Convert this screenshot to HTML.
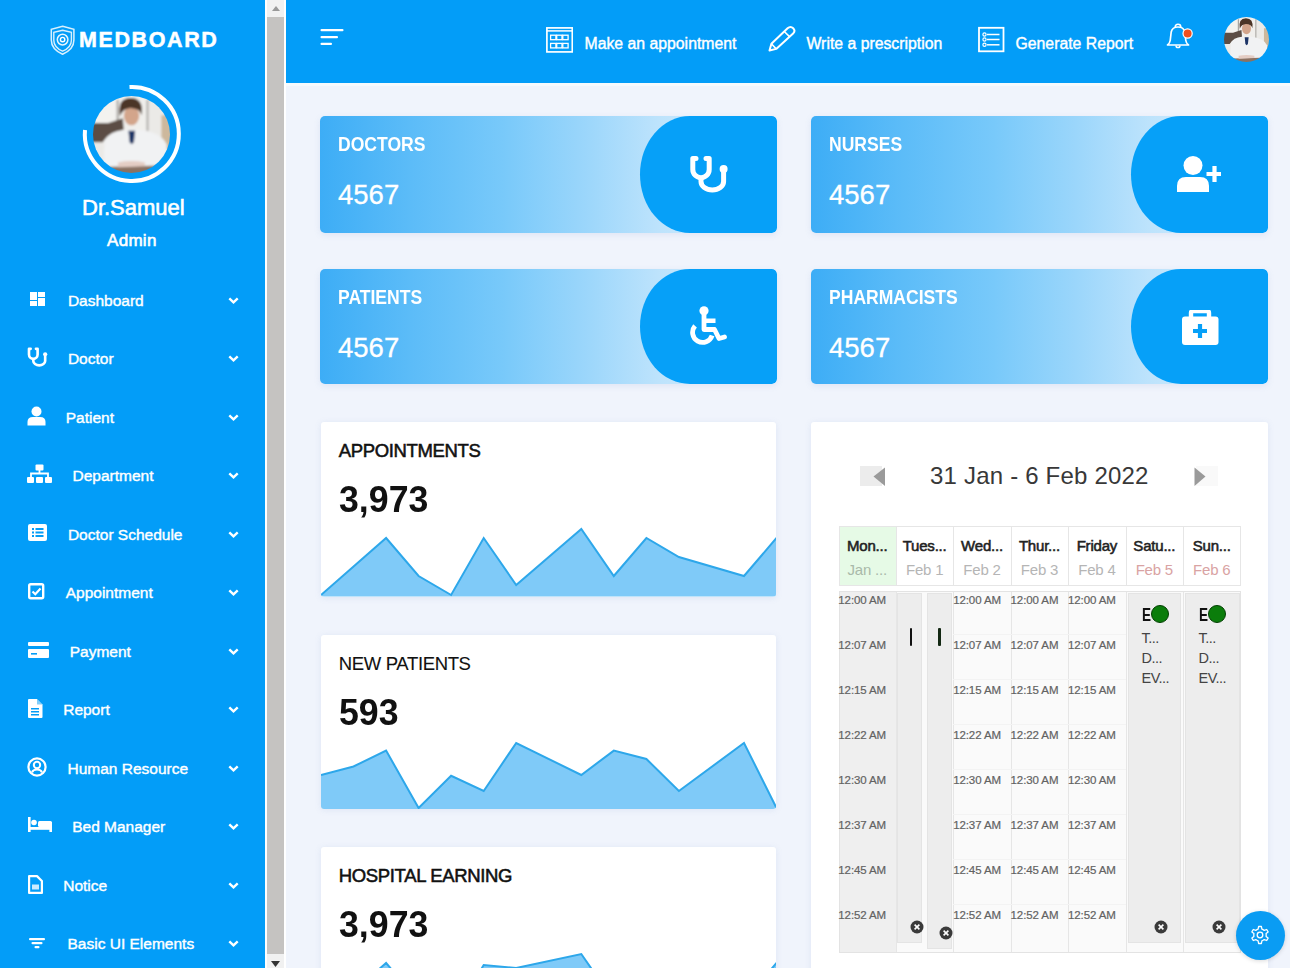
<!DOCTYPE html>
<html><head><meta charset="utf-8">
<style>
*{box-sizing:border-box;margin:0;padding:0}
html,body{width:1290px;height:968px;overflow:hidden;background:#f0f4fc;font-family:"Liberation Sans",sans-serif}
body{position:relative}
.abs{position:absolute}
.tx{white-space:nowrap}
#side{position:absolute;left:0;top:0;width:265px;height:968px;background:#039df8;color:#fff}
#sbar{position:absolute;left:265px;top:0;width:21px;height:968px;background:#fff}
#sbar .track{position:absolute;left:2px;top:0;width:17px;height:968px;background:#f1f1f1}
#sbar .thumb{position:absolute;left:2px;top:17px;width:17px;height:937px;background:#c5c3c1}
#hdr{position:absolute;left:286px;top:0;width:1004px;height:82.7px;background:#039df8;box-shadow:0 3px 0 #f6fafd}
.stat{position:absolute;width:457px;border-radius:5px;overflow:hidden;background:linear-gradient(90deg,#3dadf6 0%,#5cbcf8 20%,#78c9fa 40%,#9bd6fb 58%,#bde3fc 74%,#def0fe 100%);box-shadow:0 2px 6px rgba(120,150,200,.15)}
.stat .pill{position:absolute;left:320px;top:0;width:137px;height:100%;background:#06a0f8}
.card{position:absolute;background:#fff;border-radius:3px;box-shadow:0 1px 6px rgba(120,150,200,.15);overflow:hidden}
</style></head>
<body>
<div id="side">
<svg class="abs" style="left:49px;top:25px" width="28" height="31" viewBox="0 0 28 31">
<path d="M13.6 1.3 L24.9 4.3 V15 C24.9 21.5 19.8 26.5 13.6 29.3 C7.4 26.5 2.3 21.5 2.3 15 V4.3 Z" fill="none" stroke="#fff" stroke-width="1.5" opacity="0.85"/>
<path d="M13.6 5.2 L22.4 7.4 V15.2 C22.4 20.3 18.5 24 13.6 26.2 C8.7 24 4.8 20.3 4.8 15.2 V7.4 Z" fill="none" stroke="#fff" stroke-width="1.4" opacity="0.85"/>
<circle cx="13.6" cy="14.6" r="5.3" fill="none" stroke="#fff" stroke-width="1.5" opacity="0.9"/>
<circle cx="13.6" cy="14.6" r="2.2" fill="none" stroke="#fff" stroke-width="1.4"/>
</svg>
<div class="abs" style="left:79px;top:28px;font-size:21.5px;font-weight:bold;letter-spacing:1.6px;line-height:24px;-webkit-text-stroke:0.5px #fff">MEDBOARD</div>
<svg class="abs" style="left:92.5px;top:95.5px" width="77.0" height="77.0" viewBox="-40 -40 80 80">
<defs><clipPath id="av1"><circle cx="0" cy="0" r="40"/></clipPath>
<filter id="av1b" x="-10%" y="-10%" width="120%" height="120%"><feGaussianBlur stdDeviation="1"/></filter></defs>
<g clip-path="url(#av1)"><g filter="url(#av1b)">
<rect x="-42" y="-42" width="84" height="84" fill="#ebeae7"/>
<rect x="-42" y="-42" width="28" height="44" fill="#f3f2ef"/>
<rect x="-14" y="-40" width="30" height="40" fill="#f0efec"/>
<rect x="-15.5" y="-36" width="2.2" height="34" fill="#a8a6a2"/>
<rect x="15.5" y="-36" width="2.2" height="34" fill="#b3b1ad"/>
<rect x="31" y="-20" width="11" height="36" fill="#cdb89c"/>
<path d="M-42 -12 L-24 -12 L-9 -17 L-8 -5 L-26 3 L-30 8 L-42 8Z" fill="#5b4d44"/>
<path d="M-29.5 42 L-28 6 Q-24 -3 -8 -5 L8 -5 Q30 -3 36.5 10 L38 42Z" fill="#f1f2f3"/>
<path d="M-3.2 -4 L3.8 -4 L2.5 8 L0.3 10 L-2 8Z" fill="#1d3466"/>
<ellipse cx="0" cy="-19.5" rx="8" ry="10" fill="#d3a58b"/>
<path d="M-12 -19 Q-15 -38 -1 -38 Q13 -38 10.5 -20 Q9 -27 -1 -27.5 Q-9 -27 -12 -19Z" fill="#4b3427"/>
<path d="M-42 34 L42 32 L42 42 L-42 42Z" fill="#8a7264"/>
<path d="M-14 29 Q0 26 14 29 L14 33 L-14 34Z" fill="#e4cdc4"/>
</g></g></svg>
<svg class="abs" style="left:79.5px;top:82.2px" width="104" height="104" viewBox="0 0 104 104"><path d="M49.5 5 A47 47 0 1 1 5 48" fill="none" stroke="#fff" stroke-width="4"/></svg>
<div class="abs tx" style="left:82px;top:197.4px;font-size:22px;line-height:22px;color:#fff;-webkit-text-stroke:0.6px #fff">Dr.Samuel</div>
<div class="abs tx" style="left:107px;top:231.6px;font-size:17px;line-height:17px;color:#fff;-webkit-text-stroke:0.6px #fff;letter-spacing:0.3px">Admin</div>
<svg class="abs" style="left:30px;top:292px" width="15" height="14"><rect x="0" y="0" width="7" height="8" fill="#fff"/><rect x="8" y="0" width="7" height="5" fill="#fff"/><rect x="0" y="9" width="7" height="5" fill="#fff"/><rect x="8" y="6" width="7" height="8" fill="#fff"/></svg>
<div class="abs tx" style="left:67.9px;top:292.9px;font-size:15.5px;line-height:15.5px;color:#fff;-webkit-text-stroke:0.4px #fff">Dashboard</div>
<svg class="abs" style="left:228px;top:296.5px" width="11" height="7"><path d="M1.3 1.3 L5.5 5.3 L9.7 1.3" fill="none" stroke="#fff" stroke-width="2.4"/></svg>
<svg class="abs" style="left:27px;top:347px" width="21" height="21" viewBox="0 0 40 40"><path d="M7 3.5 H3.8 V14.5 A8.2 8.2 0 0 0 20.2 14.5 V3.5 H17" fill="none" stroke="#fff" stroke-width="5" stroke-linecap="round" stroke-linejoin="round"/><path d="M12 22 V26.5 A11.3 8.5 0 0 0 34.6 26.5 V16" fill="none" stroke="#fff" stroke-width="5"/><circle cx="34.6" cy="14" r="4" fill="#fff"/></svg>
<div class="abs tx" style="left:67.9px;top:351.4px;font-size:15.5px;line-height:15.5px;color:#fff;-webkit-text-stroke:0.4px #fff">Doctor</div>
<svg class="abs" style="left:228px;top:355.0px" width="11" height="7"><path d="M1.3 1.3 L5.5 5.3 L9.7 1.3" fill="none" stroke="#fff" stroke-width="2.4"/></svg>
<svg class="abs" style="left:27px;top:406px" width="19" height="20"><circle cx="9.5" cy="5.5" r="5" fill="#fff"/><path d="M0.5 19.5 V16 Q0.5 11 6 11 H13 Q18.5 11 18.5 16 V19.5Z" fill="#fff"/></svg>
<div class="abs tx" style="left:65.7px;top:409.9px;font-size:15.5px;line-height:15.5px;color:#fff;-webkit-text-stroke:0.4px #fff">Patient</div>
<svg class="abs" style="left:228px;top:413.5px" width="11" height="7"><path d="M1.3 1.3 L5.5 5.3 L9.7 1.3" fill="none" stroke="#fff" stroke-width="2.4"/></svg>
<svg class="abs" style="left:27px;top:464px" width="25" height="20"><rect x="8.5" y="0.5" width="8" height="6" rx="1" fill="#fff"/><path d="M12.5 6 V9.5 M4 13 V9.5 H21 V13" fill="none" stroke="#fff" stroke-width="1.8"/><rect x="0" y="13" width="7" height="6" rx="1" fill="#fff"/><rect x="9" y="13" width="7" height="6" rx="1" fill="#fff"/><rect x="18" y="13" width="7" height="6" rx="1" fill="#fff"/></svg>
<div class="abs tx" style="left:72.5px;top:468.4px;font-size:15.5px;line-height:15.5px;color:#fff;-webkit-text-stroke:0.4px #fff">Department</div>
<svg class="abs" style="left:228px;top:472.0px" width="11" height="7"><path d="M1.3 1.3 L5.5 5.3 L9.7 1.3" fill="none" stroke="#fff" stroke-width="2.4"/></svg>
<svg class="abs" style="left:28px;top:524px" width="19" height="18"><rect x="0" y="0" width="19" height="17" rx="2" fill="#fff"/><rect x="4" y="4" width="2" height="2" fill="#049cf6"/><rect x="7.5" y="4" width="8" height="2" fill="#049cf6"/><rect x="4" y="7.5" width="2" height="2" fill="#049cf6"/><rect x="7.5" y="7.5" width="8" height="2" fill="#049cf6"/><rect x="4" y="11" width="2" height="2" fill="#049cf6"/><rect x="7.5" y="11" width="8" height="2" fill="#049cf6"/></svg>
<div class="abs tx" style="left:67.9px;top:526.9px;font-size:15.5px;line-height:15.5px;color:#fff;-webkit-text-stroke:0.4px #fff">Doctor Schedule</div>
<svg class="abs" style="left:228px;top:530.5px" width="11" height="7"><path d="M1.3 1.3 L5.5 5.3 L9.7 1.3" fill="none" stroke="#fff" stroke-width="2.4"/></svg>
<svg class="abs" style="left:28px;top:583px" width="17" height="17"><rect x="1.2" y="1.2" width="14" height="14" rx="1.5" fill="none" stroke="#fff" stroke-width="2.4"/><path d="M4.5 8.5 L7.3 11.2 L12.5 5.5" fill="none" stroke="#fff" stroke-width="2.2"/></svg>
<div class="abs tx" style="left:65.7px;top:585.4px;font-size:15.5px;line-height:15.5px;color:#fff;-webkit-text-stroke:0.4px #fff">Appointment</div>
<svg class="abs" style="left:228px;top:589.0px" width="11" height="7"><path d="M1.3 1.3 L5.5 5.3 L9.7 1.3" fill="none" stroke="#fff" stroke-width="2.4"/></svg>
<svg class="abs" style="left:28px;top:642px" width="21" height="16"><rect x="0" y="0" width="21" height="4" rx="1" fill="#fff"/><rect x="0" y="7" width="21" height="9" rx="1" fill="#fff"/><rect x="3" y="11" width="6" height="1.6" fill="#049cf6"/></svg>
<div class="abs tx" style="left:69.7px;top:643.9px;font-size:15.5px;line-height:15.5px;color:#fff;-webkit-text-stroke:0.4px #fff">Payment</div>
<svg class="abs" style="left:228px;top:647.5px" width="11" height="7"><path d="M1.3 1.3 L5.5 5.3 L9.7 1.3" fill="none" stroke="#fff" stroke-width="2.4"/></svg>
<svg class="abs" style="left:28px;top:699px" width="15" height="19"><path d="M0 1 Q0 0 1 0 H9 L14.5 5.5 V18 Q14.5 19 13.5 19 H1 Q0 19 0 18Z" fill="#fff"/><path d="M9 0 V5.5 H14.5" fill="#049cf6" opacity="0.5"/><rect x="3" y="9" width="8" height="1.5" fill="#049cf6"/><rect x="3" y="12" width="8" height="1.5" fill="#049cf6"/><rect x="3" y="15" width="8" height="1.5" fill="#049cf6"/></svg>
<div class="abs tx" style="left:63.2px;top:702.4px;font-size:15.5px;line-height:15.5px;color:#fff;-webkit-text-stroke:0.4px #fff">Report</div>
<svg class="abs" style="left:228px;top:706.0px" width="11" height="7"><path d="M1.3 1.3 L5.5 5.3 L9.7 1.3" fill="none" stroke="#fff" stroke-width="2.4"/></svg>
<svg class="abs" style="left:27px;top:757px" width="20" height="20"><circle cx="10" cy="10" r="8.6" fill="none" stroke="#fff" stroke-width="2.2"/><circle cx="10" cy="8" r="3.2" fill="none" stroke="#fff" stroke-width="2"/><path d="M5 15.5 Q6 12.5 10 12.5 Q14 12.5 15 15.5" fill="none" stroke="#fff" stroke-width="2"/></svg>
<div class="abs tx" style="left:67.5px;top:760.9px;font-size:15.5px;line-height:15.5px;color:#fff;-webkit-text-stroke:0.4px #fff">Human Resource</div>
<svg class="abs" style="left:228px;top:764.5px" width="11" height="7"><path d="M1.3 1.3 L5.5 5.3 L9.7 1.3" fill="none" stroke="#fff" stroke-width="2.4"/></svg>
<svg class="abs" style="left:28px;top:817px" width="24" height="16"><rect x="0" y="0" width="2.6" height="15" fill="#fff"/><rect x="0" y="10" width="24" height="2.8" fill="#fff"/><rect x="21.4" y="5" width="2.6" height="10" fill="#fff"/><circle cx="6" cy="5.5" r="2.8" fill="#fff"/><rect x="10" y="4" width="14" height="6" rx="1.5" fill="#fff"/></svg>
<div class="abs tx" style="left:72.2px;top:819.4px;font-size:15.5px;line-height:15.5px;color:#fff;-webkit-text-stroke:0.4px #fff">Bed Manager</div>
<svg class="abs" style="left:228px;top:823.0px" width="11" height="7"><path d="M1.3 1.3 L5.5 5.3 L9.7 1.3" fill="none" stroke="#fff" stroke-width="2.4"/></svg>
<svg class="abs" style="left:28px;top:875px" width="15" height="19"><path d="M1.1 1.1 H9 L13.9 6 V17.9 H1.1Z" fill="none" stroke="#fff" stroke-width="2.2" stroke-linejoin="round"/><rect x="4" y="9.5" width="7" height="5" fill="#fff" opacity="0.8"/></svg>
<div class="abs tx" style="left:63.2px;top:877.9px;font-size:15.5px;line-height:15.5px;color:#fff;-webkit-text-stroke:0.4px #fff">Notice</div>
<svg class="abs" style="left:228px;top:881.5px" width="11" height="7"><path d="M1.3 1.3 L5.5 5.3 L9.7 1.3" fill="none" stroke="#fff" stroke-width="2.4"/></svg>
<svg class="abs" style="left:29px;top:937px" width="17" height="12"><rect x="0" y="1" width="16" height="2.2" rx="1" fill="#fff"/><rect x="2.5" y="5" width="11" height="2.2" rx="1" fill="#fff"/><rect x="5.5" y="9" width="5" height="2.2" rx="1" fill="#fff"/></svg>
<div class="abs tx" style="left:67.5px;top:936.4px;font-size:15.5px;line-height:15.5px;color:#fff;-webkit-text-stroke:0.4px #fff">Basic UI Elements</div>
<svg class="abs" style="left:228px;top:940.0px" width="11" height="7"><path d="M1.3 1.3 L5.5 5.3 L9.7 1.3" fill="none" stroke="#fff" stroke-width="2.4"/></svg>
</div>
<div id="sbar"><div class="track"></div><div class="thumb"></div>
<svg class="abs" style="left:6.5px;top:6px" width="8" height="5"><path d="M0 5 L4 0 L8 5Z" fill="#999"/></svg>
<svg class="abs" style="left:6px;top:961px" width="9" height="6"><path d="M0 0 L4.5 6 L9 0Z" fill="#333"/></svg>
</div>
<div id="hdr"></div>
<svg class="abs" style="left:320px;top:28px" width="24" height="18"><rect x="0.5" y="1" width="23" height="2.2" rx="1" fill="#fff"/><rect x="0.5" y="8" width="17.5" height="2.2" rx="1" fill="#fff"/><rect x="0.5" y="14.8" width="11.5" height="2.2" rx="1" fill="#fff"/></svg>
<svg class="abs" style="left:546px;top:27px" width="27" height="26" viewBox="0 0 27 26"><rect x="0.9" y="0.9" width="25.4" height="24" fill="none" stroke="#fff" stroke-width="1.7"/><line x1="1" y1="3.9" x2="26" y2="3.9" stroke="#fff" stroke-width="1.5"/><rect x="4.6" y="8.2" width="5.3" height="4.5" fill="none" stroke="#fff" stroke-width="1.3"/><rect x="10.7" y="8.2" width="5.3" height="4.5" fill="none" stroke="#fff" stroke-width="1.3"/><rect x="16.8" y="8.2" width="5.3" height="4.5" fill="none" stroke="#fff" stroke-width="1.3"/><rect x="4.6" y="16.4" width="5.3" height="4.5" fill="none" stroke="#fff" stroke-width="1.3"/><rect x="10.7" y="16.4" width="5.3" height="4.5" fill="none" stroke="#fff" stroke-width="1.3"/><rect x="16.8" y="16.4" width="5.3" height="4.5" fill="none" stroke="#fff" stroke-width="1.3"/></svg>
<div class="abs tx" style="left:584.5px;top:35.6px;font-size:15.8px;line-height:15.8px;color:#fff;-webkit-text-stroke:0.4px #fff">Make an appointment</div>
<svg class="abs" style="left:766px;top:25px" width="31" height="29" viewBox="0 0 31 29"><path d="M3.5 25.5 L5.4 18.8 L21.6 3.3 Q24.5 0.6 27.2 3.2 Q29.8 5.9 27.1 8.5 L10.2 23.9 Z" fill="none" stroke="#fff" stroke-width="2" stroke-linejoin="round"/><path d="M5.4 18.8 L10.2 23.9 M18.3 6.5 L23.5 11.6" stroke="#fff" stroke-width="1.6"/></svg>
<div class="abs tx" style="left:806.5px;top:35.6px;font-size:15.8px;line-height:15.8px;color:#fff;-webkit-text-stroke:0.4px #fff">Write a prescription</div>
<svg class="abs" style="left:977px;top:26px" width="28" height="27" viewBox="0 0 28 27"><rect x="2" y="1.8" width="24.5" height="23.5" fill="none" stroke="#fff" stroke-width="1.8"/><circle cx="7.5" cy="8.5" r="1.6" fill="none" stroke="#fff" stroke-width="1.2"/><circle cx="7.5" cy="13.5" r="1.6" fill="none" stroke="#fff" stroke-width="1.2"/><circle cx="7.5" cy="18.8" r="1.6" fill="none" stroke="#fff" stroke-width="1.2"/><line x1="10" y1="8.5" x2="22.5" y2="8.5" stroke="#fff" stroke-width="1.5"/><line x1="10" y1="13.5" x2="22.5" y2="13.5" stroke="#fff" stroke-width="1.5"/><line x1="10" y1="18.8" x2="22.5" y2="18.8" stroke="#fff" stroke-width="1.5"/></svg>
<div class="abs tx" style="left:1015.5px;top:35.6px;font-size:15.8px;line-height:15.8px;color:#fff;-webkit-text-stroke:0.4px #fff">Generate Report</div>
<svg class="abs" style="left:1164px;top:22px" width="32" height="28" viewBox="0 0 32 28"><path d="M14 5 Q8.2 5 7.2 10 L6.2 18.5 Q5.8 21.3 3.5 23 H24.5 Q22.2 21.3 21.8 18.5 L20.8 10 Q19.8 5 14 5Z" fill="none" stroke="#fff" stroke-width="1.7" stroke-linejoin="round"/><path d="M11.2 5 Q11.2 2.3 14 2.3 Q16.8 2.3 16.8 5" fill="none" stroke="#fff" stroke-width="1.5"/><path d="M12 23.5 Q12 25.6 14 25.6 Q16 25.6 16 23.5" fill="none" stroke="#fff" stroke-width="1.5"/><circle cx="23.6" cy="11.5" r="4.6" fill="#f24e1e" stroke="#fff" stroke-width="1.2"/></svg>
<svg class="abs" style="left:1223.5px;top:17.0px" width="45.0" height="45.0" viewBox="-40 -40 80 80">
<defs><clipPath id="av2"><circle cx="0" cy="0" r="40"/></clipPath>
<filter id="av2b" x="-10%" y="-10%" width="120%" height="120%"><feGaussianBlur stdDeviation="1"/></filter></defs>
<g clip-path="url(#av2)"><g filter="url(#av2b)">
<rect x="-42" y="-42" width="84" height="84" fill="#ebeae7"/>
<rect x="-42" y="-42" width="28" height="44" fill="#f3f2ef"/>
<rect x="-14" y="-40" width="30" height="40" fill="#f0efec"/>
<rect x="-15.5" y="-36" width="2.2" height="34" fill="#a8a6a2"/>
<rect x="15.5" y="-36" width="2.2" height="34" fill="#b3b1ad"/>
<rect x="31" y="-20" width="11" height="36" fill="#cdb89c"/>
<path d="M-42 -12 L-24 -12 L-9 -17 L-8 -5 L-26 3 L-30 8 L-42 8Z" fill="#5b4d44"/>
<path d="M-29.5 42 L-28 6 Q-24 -3 -8 -5 L8 -5 Q30 -3 36.5 10 L38 42Z" fill="#f1f2f3"/>
<path d="M-3.2 -4 L3.8 -4 L2.5 8 L0.3 10 L-2 8Z" fill="#1d3466"/>
<ellipse cx="0" cy="-19.5" rx="8" ry="10" fill="#d3a58b"/>
<path d="M-12 -19 Q-15 -38 -1 -38 Q13 -38 10.5 -20 Q9 -27 -1 -27.5 Q-9 -27 -12 -19Z" fill="#4b3427"/>
<path d="M-42 34 L42 32 L42 42 L-42 42Z" fill="#8a7264"/>
<path d="M-14 29 Q0 26 14 29 L14 33 L-14 34Z" fill="#e4cdc4"/>
</g></g></svg>
<div class="stat" style="left:320px;top:116px;height:117px">
<div class="pill" style="border-radius:50px 5px 5px 50px / 58.5px 5px 5px 58.5px"></div>
<div class="abs tx" style="left:18px;top:18.8px;font-size:19.5px;line-height:19.5px;font-weight:bold;color:#fff;transform:scaleX(0.9);transform-origin:0 0">DOCTORS</div>
<div class="abs tx" style="left:18px;top:64.9px;font-size:27.5px;line-height:27.5px;color:#fff;-webkit-text-stroke:0.3px #fff">4567</div>
<svg class="abs" style="left:369px;top:39px" width="40" height="40" viewBox="0 0 40 40"><path d="M7 3.5 H3.8 V14.5 A8.2 8.2 0 0 0 20.2 14.5 V3.5 H17" fill="none" stroke="#fff" stroke-width="5" stroke-linecap="round" stroke-linejoin="round"/><path d="M12 22 V26.5 A11.3 8.5 0 0 0 34.6 26.5 V16" fill="none" stroke="#fff" stroke-width="5"/><circle cx="34.6" cy="14" r="4" fill="#fff"/></svg>
</div>
<div class="stat" style="left:811px;top:116px;height:117px">
<div class="pill" style="border-radius:50px 5px 5px 50px / 58.5px 5px 5px 58.5px"></div>
<div class="abs tx" style="left:18px;top:18.8px;font-size:19.5px;line-height:19.5px;font-weight:bold;color:#fff;transform:scaleX(0.9);transform-origin:0 0">NURSES</div>
<div class="abs tx" style="left:18px;top:64.9px;font-size:27.5px;line-height:27.5px;color:#fff;-webkit-text-stroke:0.3px #fff">4567</div>
<svg class="abs" style="left:362px;top:38px" width="48" height="40" viewBox="0 0 48 40"><circle cx="20" cy="11.5" r="9.5" fill="#fff"/><path d="M4 38 V32 Q4 23 13 23 H27 Q36 23 36 32 V38Z" fill="#fff"/><path d="M41.5 12 V28 M33.5 20 H49.5" stroke="#fff" stroke-width="4.2"/></svg>
</div>
<div class="stat" style="left:320px;top:269px;height:115px">
<div class="pill" style="border-radius:50px 5px 5px 50px / 57.5px 5px 5px 57.5px"></div>
<div class="abs tx" style="left:18px;top:18.8px;font-size:19.5px;line-height:19.5px;font-weight:bold;color:#fff;transform:scaleX(0.9);transform-origin:0 0">PATIENTS</div>
<div class="abs tx" style="left:18px;top:64.9px;font-size:27.5px;line-height:27.5px;color:#fff;-webkit-text-stroke:0.3px #fff">4567</div>
<svg class="abs" style="left:369px;top:37px" width="44" height="40" viewBox="0 0 44 40"><circle cx="15" cy="4.8" r="4.6" fill="#fff"/><path d="M15 8 V23.5 H25.5 L30 32.5 L35.5 31" fill="none" stroke="#fff" stroke-width="4.8" stroke-linejoin="round" stroke-linecap="round"/><path d="M15 14.8 H26.5" stroke="#fff" stroke-width="4.4"/><path d="M6.05 19.84 A10 10 0 1 0 23.1 29.5" fill="none" stroke="#fff" stroke-width="4.8"/></svg>
</div>
<div class="stat" style="left:811px;top:269px;height:115px">
<div class="pill" style="border-radius:50px 5px 5px 50px / 57.5px 5px 5px 57.5px"></div>
<div class="abs tx" style="left:18px;top:18.8px;font-size:19.5px;line-height:19.5px;font-weight:bold;color:#fff;transform:scaleX(0.9);transform-origin:0 0">PHARMACISTS</div>
<div class="abs tx" style="left:18px;top:64.9px;font-size:27.5px;line-height:27.5px;color:#fff;-webkit-text-stroke:0.3px #fff">4567</div>
<svg class="abs" style="left:369px;top:41px" width="40" height="36" viewBox="0 0 40 36"><path d="M11 7 V3 Q11 1 13 1 H27 Q29 1 29 3 V7" fill="none" stroke="#fff" stroke-width="4.4"/><rect x="2" y="6.5" width="36.5" height="28.5" rx="3" fill="#fff"/><path d="M20 14 V28 M13 21 H27" stroke="#06a0f8" stroke-width="4.2"/></svg>
</div>
<div class="card" style="left:320.5px;top:422px;width:455.5px;height:174.5px">
<div class="abs tx" style="left:18.3px;top:19.7px;font-size:18.5px;line-height:18px;font-weight:normal;color:#111;letter-spacing:-0.35px;-webkit-text-stroke:0.55px #111">APPOINTMENTS</div>
<div class="abs tx" style="left:18.5px;top:58.7px;font-size:37px;line-height:37px;font-weight:bold;color:#111;transform:scaleX(0.965);transform-origin:0 0">3,973</div>
<svg class="abs" style="left:0;top:0" width="456" height="174.5"><polygon points="0,174.5 0.0,173.0 65.1,116.0 97.6,154.0 130.1,173.0 162.7,116.0 195.2,163.0 260.3,107.0 292.8,154.0 325.4,116.0 357.9,135.0 423.0,154.0 455.5,116.0 455.5,174.5" fill="#7fcaf8"/><polyline points="0.0,173.0 65.1,116.0 97.6,154.0 130.1,173.0 162.7,116.0 195.2,163.0 260.3,107.0 292.8,154.0 325.4,116.0 357.9,135.0 423.0,154.0 455.5,116.0" fill="none" stroke="#2da7ea" stroke-width="2"/></svg>
</div>
<div class="card" style="left:320.5px;top:635px;width:455.5px;height:174px">
<div class="abs tx" style="left:18.3px;top:19.7px;font-size:18.5px;line-height:18px;font-weight:normal;color:#111;letter-spacing:-0.35px;-webkit-text-stroke:0.1px #111">NEW PATIENTS</div>
<div class="abs tx" style="left:18.5px;top:58.7px;font-size:37px;line-height:37px;font-weight:bold;color:#111;transform:scaleX(0.965);transform-origin:0 0">593</div>
<svg class="abs" style="left:0;top:0" width="456" height="174"><polygon points="0,174 0.0,140.0 32.5,131.5 65.1,115.6 97.6,173.0 130.1,140.8 162.7,156.0 195.2,108.0 260.3,140.0 292.8,115.6 325.4,124.0 357.9,156.0 423.0,108.0 455.5,173.0 455.5,174" fill="#7fcaf8"/><polyline points="0.0,140.0 32.5,131.5 65.1,115.6 97.6,173.0 130.1,140.8 162.7,156.0 195.2,108.0 260.3,140.0 292.8,115.6 325.4,124.0 357.9,156.0 423.0,108.0 455.5,173.0" fill="none" stroke="#2da7ea" stroke-width="2"/></svg>
</div>
<div class="card" style="left:320.5px;top:847px;width:455.5px;height:200px">
<div class="abs tx" style="left:18.3px;top:19.7px;font-size:18.5px;line-height:18px;font-weight:normal;color:#111;letter-spacing:-0.35px;-webkit-text-stroke:0.55px #111">HOSPITAL EARNING</div>
<div class="abs tx" style="left:18.5px;top:58.7px;font-size:37px;line-height:37px;font-weight:bold;color:#111;transform:scaleX(0.965);transform-origin:0 0">3,973</div>
<svg class="abs" style="left:0;top:0" width="456" height="200"><polygon points="0,175 0.0,173.0 65.1,116.0 97.6,154.0 130.1,173.0 162.7,118.0 195.2,121.0 260.3,107.0 292.8,154.0 325.4,128.0 357.9,135.0 423.0,154.0 455.5,116.0 455.5,175" fill="#7fcaf8"/><polyline points="0.0,173.0 65.1,116.0 97.6,154.0 130.1,173.0 162.7,118.0 195.2,121.0 260.3,107.0 292.8,154.0 325.4,128.0 357.9,135.0 423.0,154.0 455.5,116.0" fill="none" stroke="#2da7ea" stroke-width="2"/></svg>
</div>
<div class="card" style="left:810.5px;top:422px;width:457px;height:560px"></div>
<div class="abs" style="left:860px;top:466px;width:22px;height:20px;background:#ececec"></div>
<svg class="abs" style="left:872px;top:467px" width="14" height="20"><path d="M1.5 9.5 L13 0.5 V19Z" fill="#9a9a9a"/></svg>
<div class="abs" style="left:1196px;top:466px;width:22px;height:20px;background:#f9f9f9"></div>
<svg class="abs" style="left:1193px;top:467px" width="14" height="20"><path d="M12.5 9.5 L1.5 0.5 V19Z" fill="#9a9a9a"/></svg>
<div class="abs tx" style="left:930px;top:464.2px;font-size:24px;line-height:24px;color:#383838;letter-spacing:0.2px">31 Jan - 6 Feb 2022</div>
<div class="abs" style="left:838.5px;top:526px;width:402.0px;height:60px;border:1px solid #e6e6e6;background:#fff"></div>
<div class="abs" style="left:839.5px;top:527px;width:56.4px;height:58px;background:#e6fae6"></div>
<div class="abs" style="left:895.9px;top:527px;width:1px;height:58px;background:#e6e6e6"></div>
<div class="abs" style="left:953.4px;top:527px;width:1px;height:58px;background:#e6e6e6"></div>
<div class="abs" style="left:1010.8px;top:527px;width:1px;height:58px;background:#e6e6e6"></div>
<div class="abs" style="left:1068.2px;top:527px;width:1px;height:58px;background:#e6e6e6"></div>
<div class="abs" style="left:1125.6px;top:527px;width:1px;height:58px;background:#e6e6e6"></div>
<div class="abs" style="left:1183.1px;top:527px;width:1px;height:58px;background:#e6e6e6"></div>
<div class="abs tx" style="left:838.5px;top:538.3px;font-size:15px;line-height:15px;color:#222;-webkit-text-stroke:0.55px #222;letter-spacing:-0.2px;width:57.4px;text-align:center">Mon...</div>
<div class="abs tx" style="left:838.5px;top:561.9px;font-size:15px;line-height:15px;color:#a9b9a9;letter-spacing:-0.2px;width:57.4px;text-align:center">Jan ...</div>
<div class="abs tx" style="left:895.9285714285714px;top:538.3px;font-size:15px;line-height:15px;color:#222;-webkit-text-stroke:0.55px #222;letter-spacing:-0.2px;width:57.4px;text-align:center">Tues...</div>
<div class="abs tx" style="left:895.9285714285714px;top:561.9px;font-size:15px;line-height:15px;color:#b5b5b5;letter-spacing:-0.2px;width:57.4px;text-align:center">Feb 1</div>
<div class="abs tx" style="left:953.3571428571429px;top:538.3px;font-size:15px;line-height:15px;color:#222;-webkit-text-stroke:0.55px #222;letter-spacing:-0.2px;width:57.4px;text-align:center">Wed...</div>
<div class="abs tx" style="left:953.3571428571429px;top:561.9px;font-size:15px;line-height:15px;color:#b5b5b5;letter-spacing:-0.2px;width:57.4px;text-align:center">Feb 2</div>
<div class="abs tx" style="left:1010.7857142857142px;top:538.3px;font-size:15px;line-height:15px;color:#222;-webkit-text-stroke:0.55px #222;letter-spacing:-0.2px;width:57.4px;text-align:center">Thur...</div>
<div class="abs tx" style="left:1010.7857142857142px;top:561.9px;font-size:15px;line-height:15px;color:#b5b5b5;letter-spacing:-0.2px;width:57.4px;text-align:center">Feb 3</div>
<div class="abs tx" style="left:1068.2142857142858px;top:538.3px;font-size:15px;line-height:15px;color:#222;-webkit-text-stroke:0.55px #222;letter-spacing:-0.2px;width:57.4px;text-align:center">Friday</div>
<div class="abs tx" style="left:1068.2142857142858px;top:561.9px;font-size:15px;line-height:15px;color:#b5b5b5;letter-spacing:-0.2px;width:57.4px;text-align:center">Feb 4</div>
<div class="abs tx" style="left:1125.642857142857px;top:538.3px;font-size:15px;line-height:15px;color:#222;-webkit-text-stroke:0.55px #222;letter-spacing:-0.2px;width:57.4px;text-align:center">Satu...</div>
<div class="abs tx" style="left:1125.642857142857px;top:561.9px;font-size:15px;line-height:15px;color:#d9a3a3;letter-spacing:-0.2px;width:57.4px;text-align:center">Feb 5</div>
<div class="abs tx" style="left:1183.0714285714284px;top:538.3px;font-size:15px;line-height:15px;color:#222;-webkit-text-stroke:0.55px #222;letter-spacing:-0.2px;width:57.4px;text-align:center">Sun...</div>
<div class="abs tx" style="left:1183.0714285714284px;top:561.9px;font-size:15px;line-height:15px;color:#d9a3a3;letter-spacing:-0.2px;width:57.4px;text-align:center">Feb 6</div>
<div class="abs" style="left:838.5px;top:590.5px;width:402.0px;height:362px;border:1px solid #e3e3e3;border-top:1px solid #e3e3e3;background:#fafafa"></div>
<div class="abs" style="left:839.5px;top:591.5px;width:56.4px;height:360px;background:#efefef"></div>
<div class="abs" style="left:895.9px;top:591.5px;width:1px;height:360px;background:#e6e6e6"></div>
<div class="abs" style="left:953.4px;top:591.5px;width:1px;height:360px;background:#e6e6e6"></div>
<div class="abs" style="left:1010.8px;top:591.5px;width:1px;height:360px;background:#e6e6e6"></div>
<div class="abs" style="left:1068.2px;top:591.5px;width:1px;height:360px;background:#e6e6e6"></div>
<div class="abs" style="left:1125.6px;top:591.5px;width:1px;height:360px;background:#e6e6e6"></div>
<div class="abs" style="left:1183.1px;top:591.5px;width:1px;height:360px;background:#e6e6e6"></div>
<div class="abs" style="left:953.4px;top:633.5px;width:172.3px;height:1px;background:#f3f3f3"></div>
<div class="abs" style="left:953.4px;top:678.5px;width:172.3px;height:1px;background:#f3f3f3"></div>
<div class="abs" style="left:953.4px;top:723.5px;width:172.3px;height:1px;background:#f3f3f3"></div>
<div class="abs" style="left:953.4px;top:768.5px;width:172.3px;height:1px;background:#f3f3f3"></div>
<div class="abs" style="left:953.4px;top:813.5px;width:172.3px;height:1px;background:#f3f3f3"></div>
<div class="abs" style="left:953.4px;top:858.5px;width:172.3px;height:1px;background:#f3f3f3"></div>
<div class="abs" style="left:953.4px;top:903.5px;width:172.3px;height:1px;background:#f3f3f3"></div>
<div class="abs tx" style="left:838.3px;top:594.9px;font-size:11.5px;line-height:11.5px;color:#626262;letter-spacing:-0.1px;-webkit-text-stroke:0.2px #626262">12:00 AM</div>
<div class="abs tx" style="left:953.1571428571428px;top:594.9px;font-size:11.5px;line-height:11.5px;color:#626262;letter-spacing:-0.1px;-webkit-text-stroke:0.2px #626262">12:00 AM</div>
<div class="abs tx" style="left:1010.5857142857142px;top:594.9px;font-size:11.5px;line-height:11.5px;color:#626262;letter-spacing:-0.1px;-webkit-text-stroke:0.2px #626262">12:00 AM</div>
<div class="abs tx" style="left:1068.0142857142857px;top:594.9px;font-size:11.5px;line-height:11.5px;color:#626262;letter-spacing:-0.1px;-webkit-text-stroke:0.2px #626262">12:00 AM</div>
<div class="abs tx" style="left:838.3px;top:639.9px;font-size:11.5px;line-height:11.5px;color:#626262;letter-spacing:-0.1px;-webkit-text-stroke:0.2px #626262">12:07 AM</div>
<div class="abs tx" style="left:953.1571428571428px;top:639.9px;font-size:11.5px;line-height:11.5px;color:#626262;letter-spacing:-0.1px;-webkit-text-stroke:0.2px #626262">12:07 AM</div>
<div class="abs tx" style="left:1010.5857142857142px;top:639.9px;font-size:11.5px;line-height:11.5px;color:#626262;letter-spacing:-0.1px;-webkit-text-stroke:0.2px #626262">12:07 AM</div>
<div class="abs tx" style="left:1068.0142857142857px;top:639.9px;font-size:11.5px;line-height:11.5px;color:#626262;letter-spacing:-0.1px;-webkit-text-stroke:0.2px #626262">12:07 AM</div>
<div class="abs tx" style="left:838.3px;top:684.9px;font-size:11.5px;line-height:11.5px;color:#626262;letter-spacing:-0.1px;-webkit-text-stroke:0.2px #626262">12:15 AM</div>
<div class="abs tx" style="left:953.1571428571428px;top:684.9px;font-size:11.5px;line-height:11.5px;color:#626262;letter-spacing:-0.1px;-webkit-text-stroke:0.2px #626262">12:15 AM</div>
<div class="abs tx" style="left:1010.5857142857142px;top:684.9px;font-size:11.5px;line-height:11.5px;color:#626262;letter-spacing:-0.1px;-webkit-text-stroke:0.2px #626262">12:15 AM</div>
<div class="abs tx" style="left:1068.0142857142857px;top:684.9px;font-size:11.5px;line-height:11.5px;color:#626262;letter-spacing:-0.1px;-webkit-text-stroke:0.2px #626262">12:15 AM</div>
<div class="abs tx" style="left:838.3px;top:729.9px;font-size:11.5px;line-height:11.5px;color:#626262;letter-spacing:-0.1px;-webkit-text-stroke:0.2px #626262">12:22 AM</div>
<div class="abs tx" style="left:953.1571428571428px;top:729.9px;font-size:11.5px;line-height:11.5px;color:#626262;letter-spacing:-0.1px;-webkit-text-stroke:0.2px #626262">12:22 AM</div>
<div class="abs tx" style="left:1010.5857142857142px;top:729.9px;font-size:11.5px;line-height:11.5px;color:#626262;letter-spacing:-0.1px;-webkit-text-stroke:0.2px #626262">12:22 AM</div>
<div class="abs tx" style="left:1068.0142857142857px;top:729.9px;font-size:11.5px;line-height:11.5px;color:#626262;letter-spacing:-0.1px;-webkit-text-stroke:0.2px #626262">12:22 AM</div>
<div class="abs tx" style="left:838.3px;top:774.9px;font-size:11.5px;line-height:11.5px;color:#626262;letter-spacing:-0.1px;-webkit-text-stroke:0.2px #626262">12:30 AM</div>
<div class="abs tx" style="left:953.1571428571428px;top:774.9px;font-size:11.5px;line-height:11.5px;color:#626262;letter-spacing:-0.1px;-webkit-text-stroke:0.2px #626262">12:30 AM</div>
<div class="abs tx" style="left:1010.5857142857142px;top:774.9px;font-size:11.5px;line-height:11.5px;color:#626262;letter-spacing:-0.1px;-webkit-text-stroke:0.2px #626262">12:30 AM</div>
<div class="abs tx" style="left:1068.0142857142857px;top:774.9px;font-size:11.5px;line-height:11.5px;color:#626262;letter-spacing:-0.1px;-webkit-text-stroke:0.2px #626262">12:30 AM</div>
<div class="abs tx" style="left:838.3px;top:819.9px;font-size:11.5px;line-height:11.5px;color:#626262;letter-spacing:-0.1px;-webkit-text-stroke:0.2px #626262">12:37 AM</div>
<div class="abs tx" style="left:953.1571428571428px;top:819.9px;font-size:11.5px;line-height:11.5px;color:#626262;letter-spacing:-0.1px;-webkit-text-stroke:0.2px #626262">12:37 AM</div>
<div class="abs tx" style="left:1010.5857142857142px;top:819.9px;font-size:11.5px;line-height:11.5px;color:#626262;letter-spacing:-0.1px;-webkit-text-stroke:0.2px #626262">12:37 AM</div>
<div class="abs tx" style="left:1068.0142857142857px;top:819.9px;font-size:11.5px;line-height:11.5px;color:#626262;letter-spacing:-0.1px;-webkit-text-stroke:0.2px #626262">12:37 AM</div>
<div class="abs tx" style="left:838.3px;top:864.9px;font-size:11.5px;line-height:11.5px;color:#626262;letter-spacing:-0.1px;-webkit-text-stroke:0.2px #626262">12:45 AM</div>
<div class="abs tx" style="left:953.1571428571428px;top:864.9px;font-size:11.5px;line-height:11.5px;color:#626262;letter-spacing:-0.1px;-webkit-text-stroke:0.2px #626262">12:45 AM</div>
<div class="abs tx" style="left:1010.5857142857142px;top:864.9px;font-size:11.5px;line-height:11.5px;color:#626262;letter-spacing:-0.1px;-webkit-text-stroke:0.2px #626262">12:45 AM</div>
<div class="abs tx" style="left:1068.0142857142857px;top:864.9px;font-size:11.5px;line-height:11.5px;color:#626262;letter-spacing:-0.1px;-webkit-text-stroke:0.2px #626262">12:45 AM</div>
<div class="abs tx" style="left:838.3px;top:909.9px;font-size:11.5px;line-height:11.5px;color:#626262;letter-spacing:-0.1px;-webkit-text-stroke:0.2px #626262">12:52 AM</div>
<div class="abs tx" style="left:953.1571428571428px;top:909.9px;font-size:11.5px;line-height:11.5px;color:#626262;letter-spacing:-0.1px;-webkit-text-stroke:0.2px #626262">12:52 AM</div>
<div class="abs tx" style="left:1010.5857142857142px;top:909.9px;font-size:11.5px;line-height:11.5px;color:#626262;letter-spacing:-0.1px;-webkit-text-stroke:0.2px #626262">12:52 AM</div>
<div class="abs tx" style="left:1068.0142857142857px;top:909.9px;font-size:11.5px;line-height:11.5px;color:#626262;letter-spacing:-0.1px;-webkit-text-stroke:0.2px #626262">12:52 AM</div>
<div class="abs" style="left:896.5px;top:592.5px;width:25px;height:350px;background:#ededed;border:1px solid #e4e4e4"></div>
<div class="abs" style="left:926.5px;top:592.5px;width:25px;height:356px;background:#ededed;border:1px solid #e4e4e4"></div>
<div class="abs" style="left:910.2px;top:628px;width:2.2px;height:18px;background:#111;border-radius:1px"></div>
<div class="abs" style="left:938.3px;top:628px;width:3px;height:18px;background:#132813;border-radius:1px"></div>
<svg class="abs" style="left:909.5px;top:920px" width="14" height="14"><circle cx="7" cy="7" r="6.5" fill="#3a3a3a"/><path d="M4.6 4.6 L9.4 9.4 M9.4 4.6 L4.6 9.4" stroke="#fff" stroke-width="1.6"/></svg>
<svg class="abs" style="left:938.5px;top:925.6px" width="14" height="14"><circle cx="7" cy="7" r="6.5" fill="#3a3a3a"/><path d="M4.6 4.6 L9.4 9.4 M9.4 4.6 L4.6 9.4" stroke="#fff" stroke-width="1.6"/></svg>
<div class="abs" style="left:1127.5px;top:592.5px;width:53.5px;height:350px;background:#ededed;border:1px solid #e4e4e4"></div>
<div class="abs tx" style="left:1141.5px;top:605.5px;font-size:18px;line-height:18px;color:#111;font-weight:bold;display:inline-block;transform:scaleX(0.75);transform-origin:0 0">E</div>
<div class="abs" style="left:1150.5px;top:604.5px;width:18px;height:18px;border-radius:50%;background:#0b7d0b;border:1.2px solid #034003"></div>
<div class="abs tx" style="left:1141.5px;top:631.2px;font-size:14.5px;line-height:14.5px;color:#444;letter-spacing:-0.5px">T...</div>
<div class="abs tx" style="left:1141.5px;top:651.2px;font-size:14.5px;line-height:14.5px;color:#444;letter-spacing:-0.5px">D...</div>
<div class="abs tx" style="left:1141.5px;top:671.2px;font-size:14.5px;line-height:14.5px;color:#444;letter-spacing:-0.5px">EV...</div>
<div class="abs" style="left:1184.5px;top:592.5px;width:55.5px;height:350px;background:#ededed;border:1px solid #e4e4e4"></div>
<div class="abs tx" style="left:1198.5px;top:605.5px;font-size:18px;line-height:18px;color:#111;font-weight:bold;display:inline-block;transform:scaleX(0.75);transform-origin:0 0">E</div>
<div class="abs" style="left:1207.5px;top:604.5px;width:18px;height:18px;border-radius:50%;background:#0b7d0b;border:1.2px solid #034003"></div>
<div class="abs tx" style="left:1198.5px;top:631.2px;font-size:14.5px;line-height:14.5px;color:#444;letter-spacing:-0.5px">T...</div>
<div class="abs tx" style="left:1198.5px;top:651.2px;font-size:14.5px;line-height:14.5px;color:#444;letter-spacing:-0.5px">D...</div>
<div class="abs tx" style="left:1198.5px;top:671.2px;font-size:14.5px;line-height:14.5px;color:#444;letter-spacing:-0.5px">EV...</div>
<svg class="abs" style="left:1153.5px;top:920px" width="14" height="14"><circle cx="7" cy="7" r="6.5" fill="#3a3a3a"/><path d="M4.6 4.6 L9.4 9.4 M9.4 4.6 L4.6 9.4" stroke="#fff" stroke-width="1.6"/></svg>
<svg class="abs" style="left:1211.5px;top:920px" width="14" height="14"><circle cx="7" cy="7" r="6.5" fill="#3a3a3a"/><path d="M4.6 4.6 L9.4 9.4 M9.4 4.6 L4.6 9.4" stroke="#fff" stroke-width="1.6"/></svg>
<div class="abs" style="left:1235.5px;top:910.5px;width:49px;height:49px;border-radius:50%;background:#0a9cf3;box-shadow:0 1px 4px rgba(0,0,0,.15)"></div>
<svg class="abs" style="left:1250px;top:925px" width="20" height="20" viewBox="0 0 20 20"><path d="M8.6 1.5 H11.4 L11.9 4.1 Q13.2 4.6 14.2 5.4 L16.7 4.5 L18.1 6.9 L16.1 8.6 Q16.3 10 16.1 11.4 L18.1 13.1 L16.7 15.5 L14.2 14.6 Q13.2 15.4 11.9 15.9 L11.4 18.5 H8.6 L8.1 15.9 Q6.8 15.4 5.8 14.6 L3.3 15.5 L1.9 13.1 L3.9 11.4 Q3.7 10 3.9 8.6 L1.9 6.9 L3.3 4.5 L5.8 5.4 Q6.8 4.6 8.1 4.1Z" fill="none" stroke="#fff" stroke-width="1.3" stroke-linejoin="round"/><circle cx="10" cy="10" r="2.8" fill="none" stroke="#fff" stroke-width="1.3"/></svg>
</body></html>
